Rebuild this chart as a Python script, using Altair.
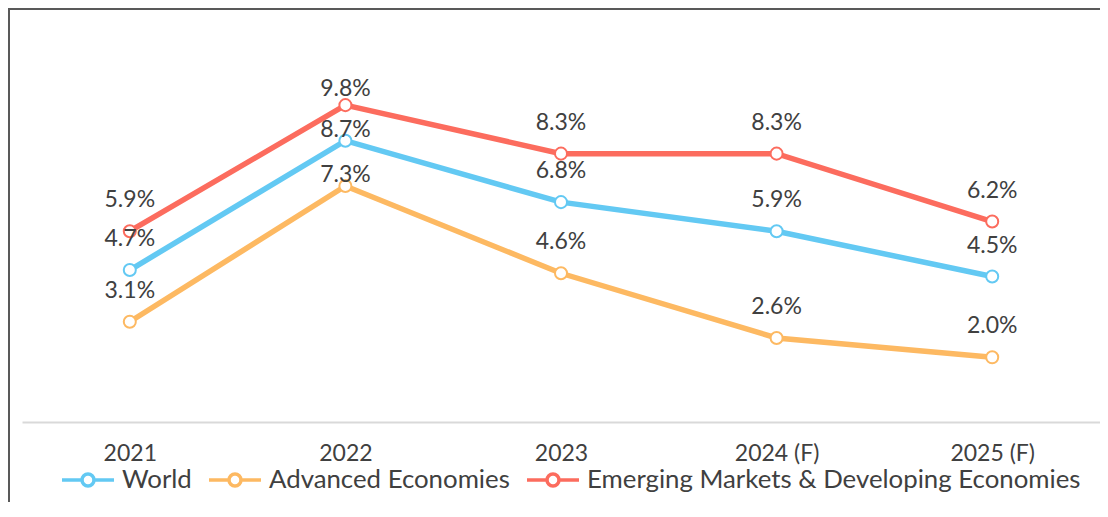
import altair as alt
import pandas as pd

years = ["2021", "2022", "2023", "2024 (F)", "2025 (F)"]
series = ["World", "Advanced Economies", "Emerging Markets & Developing Economies"]
world = [4.7, 8.7, 6.8, 5.9, 4.5]
advanced = [3.1, 7.3, 4.6, 2.6, 2.0]
emerging = [5.9, 9.8, 8.3, 8.3, 6.2]
colors = ["#63C9F3", "#FDB962", "#FC6C5E"]

rows = []
for s, vals in zip(series, [world, advanced, emerging]):
    for y, v in zip(years, vals):
        rows.append({"year": y, "series": s, "value": v})
df = pd.DataFrame(rows)

FONT = "Lato"
TXT = "#404040"

legend_path = ("M-1,0H-0.23 M0.23,0H1 "
               "M-0.23,0A0.23,0.23 0 1,0 0.23,0A0.23,0.23 0 1,0 -0.23,0Z")

legend = alt.Legend(
    orient="none", legendX=38, legendY=418, direction="horizontal",
    title=None, labelFont=FONT, labelFontSize=25.8, labelColor=TXT,
    labelLimit=2000,
    symbolType=legend_path, symbolSize=2704, symbolStrokeWidth=3.5,
    symbolFillColor="white", labelOffset=6, columnPadding=10,
)

x_enc = alt.X(
    "year:N", sort=years, title=None,
    scale=alt.Scale(type="point", padding=0.5),
    axis=alt.Axis(labelAngle=0, ticks=False, tickSize=0, domainColor="#D9D9D9",
                  domainWidth=2, labelFont=FONT, labelFontSize=23,
                  labelColor=TXT, labelPadding=20, grid=False),
)
y_enc = alt.Y("value:Q", scale=alt.Scale(domain=[0, 12]), axis=None)
stroke_enc = alt.Stroke("series:N", scale=alt.Scale(domain=series, range=colors),
                        legend=legend, sort=series)

base = alt.Chart(df).encode(x=x_enc, y=y_enc)

lines = base.mark_line(strokeWidth=5.5).encode(stroke=stroke_enc, detail="series:N")
points = base.mark_point(filled=True, fill="white", size=145, strokeWidth=2,
                         opacity=1).encode(stroke=stroke_enc)

lbl = base.transform_calculate(label="format(datum.value, '.1f') + '%'")
text_kw = dict(font=FONT, fontSize=23, color=TXT, baseline="middle", align="center")
labels_main = lbl.transform_filter("datum.year != '2022'").mark_text(dy=-31, **text_kw).encode(text="label:N")
labels_22a = lbl.transform_filter(
    "datum.year == '2022' && datum.series != 'Emerging Markets & Developing Economies'"
).mark_text(dy=-11, **text_kw).encode(text="label:N")
labels_22b = lbl.transform_filter(
    "datum.year == '2022' && datum.series == 'Emerging Markets & Developing Economies'"
).mark_text(dy=-16, **text_kw).encode(text="label:N")

one = pd.DataFrame({"a": [0]})
frame_top = alt.Chart(one).mark_rule(color="#595959", strokeWidth=2).encode(
    x=alt.value(-14), x2=alt.value(1080), y=alt.value(-25))
frame_left = alt.Chart(one).mark_rule(color="#595959", strokeWidth=2).encode(
    x=alt.value(-13), y=alt.value(-26), y2=alt.value(470))

chart = alt.layer(
    frame_top, frame_left, lines, points, labels_main, labels_22a, labels_22b
).properties(
    width=1078, height=388,
    padding={"left": 14, "top": 26, "right": 0, "bottom": 80},
    autosize=alt.AutoSizeParams(type="none"),
    background="white",
).configure_view(stroke=None)

chart.save("out.html", embed_options={"renderer": "svg", "actions": False})
